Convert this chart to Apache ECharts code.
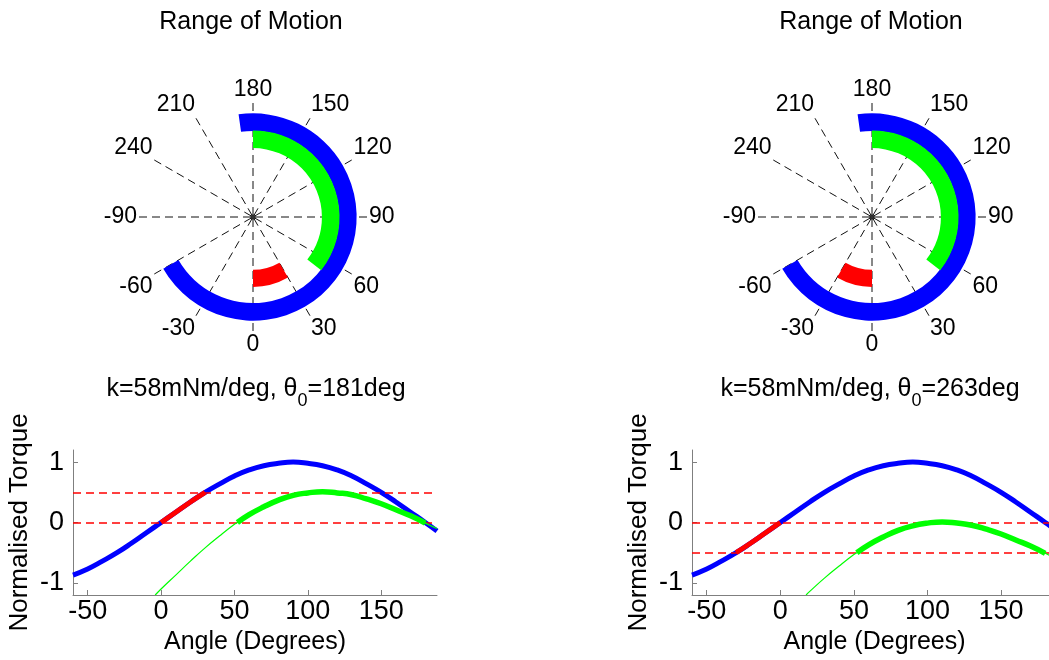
<!DOCTYPE html>
<html>
<head>
<meta charset="utf-8">
<script src="https://cdn.jsdelivr.net/npm/echarts@6/dist/echarts.min.js"></script>
<style>
  html, body { margin: 0; padding: 0; background: #ffffff; }
  #main { width: 1049px; height: 660px; }
</style>
</head>
<body>
<div id="main"></div>
<script>
// ---- data -------------------------------------------------------------
// Angles (deg) where the gravity torque curve is sampled
const angles = [-60, -50, -40, -30, -20, -10, 0, 10, 20, 30, 40, 50, 60, 70, 80, 90,
  100, 110, 120, 130, 140, 150, 160, 170, 180, 188];
// Normalised gravity torque (identical for both spring settings)
const gravityTorque = [-0.87, -0.77, -0.64, -0.50, -0.34, -0.17, 0.00, 0.17, 0.34, 0.50,
  0.64, 0.77, 0.87, 0.94, 0.98, 1.00, 0.98, 0.94, 0.87, 0.77, 0.64, 0.50, 0.34, 0.17, 0.00, -0.14];

// Net torque with spring, theta0 = 181deg
const netAngles1 = [-4, 0, 10, 20, 30, 40, 50, 52, 60, 70, 80, 90, 100, 110, 120, 130,
  140, 150, 160, 170, 180, 188];
const netTorque1 = [-1.20, -1.10, -0.87, -0.64, -0.42, -0.22, -0.03, 0.00, 0.13, 0.26,
  0.37, 0.45, 0.49, 0.51, 0.49, 0.46, 0.39, 0.31, 0.21, 0.11, -0.01, -0.10];

// Net torque with spring, theta0 = 263deg
const netAngles2 = [17.5, 20, 30, 40, 50, 52, 60, 70, 80, 90, 100, 110, 120, 130, 140,
  150, 160, 170, 180, 188];
const netTorque2 = [-1.20, -1.14, -0.92, -0.72, -0.53, -0.50, -0.37, -0.24, -0.13, -0.055,
  -0.01, 0.01, -0.01, -0.045, -0.11, -0.19, -0.29, -0.39, -0.51, -0.60];

// Ranges of motion (deg): [start, end]
const fullRange = [-60, 188];
const usableRange = [52, 180];
const liftRange1 = [0, 30];
const liftRange2 = [-30, 0];

// Torque limits drawn as dashed reference lines
const limits1 = [0, 0.5];
const limits2 = [-0.5, 0];

// Axis tick labels
const xTicks = [-50, 0, 50, 100, 150];
const yTicks = [-1, 0, 1];
const polarStep = 30;

const titles = ['Range of Motion', 'Range of Motion'];
const springText = [
  ['k=58mNm/deg, θ', '0', '=181deg'],
  ['k=58mNm/deg, θ', '0', '=263deg']
];

// ---- helpers ----------------------------------------------------------
const FONT = "'Liberation Sans', Arial, Helvetica, sans-serif";
const BLUE = '#0000ff', GREEN = '#00ff00', RED = '#ff0000';

function pairs(xs, ys) { return xs.map((x, i) => [x, ys[i]]); }
function within(xs, ys, lo, hi) {
  const out = [];
  xs.forEach((x, i) => { if (x >= lo && x <= hi) out.push([x, ys[i]]); });
  return out;
}

// radial bands (in radius-axis units) for the three rings
const bands = { outer: [0.83, 1.0], middle: [0.665, 0.835], inner: [0.51, 0.675] };

function arcRenderer(band) {
  return function (params, api) {
    const cs = params.coordSys;
    const a0 = api.value(0), a1 = api.value(1);
    const pOut0 = api.coord([band[1], a0]);
    const pOut1 = api.coord([band[1], a1]);
    const pIn0 = api.coord([band[0], a0]);
    const rOut = Math.hypot(pOut0[0] - cs.cx, pOut0[1] - cs.cy);
    const rIn = Math.hypot(pIn0[0] - cs.cx, pIn0[1] - cs.cy);
    const s = Math.atan2(pOut0[1] - cs.cy, pOut0[0] - cs.cx);
    let e = Math.atan2(pOut1[1] - cs.cy, pOut1[0] - cs.cx);
    while (e >= s) e -= 2 * Math.PI;
    return {
      type: 'sector',
      shape: { cx: cs.cx, cy: cs.cy, r: rOut, r0: rIn, startAngle: s, endAngle: e, clockwise: false },
      style: { fill: api.visual('color') }
    };
  };
}

function arcSeries(polarIndex, range, band, color, z) {
  return {
    type: 'custom', coordinateSystem: 'polar', polarIndex: polarIndex,
    renderItem: arcRenderer(band),
    encode: { angle: [0, 1] },
    data: [range], itemStyle: { color: color }, z: z, silent: true
  };
}

function angleAxis(polarIndex) {
  return {
    polarIndex: polarIndex, type: 'value', min: -90, max: 270, interval: polarStep,
    startAngle: 180, clockwise: false,
    axisLine: { show: false }, axisTick: { show: false },
    axisLabel: {
      margin: 2, color: '#000', fontFamily: FONT, fontSize: 23,
      formatter: v => (v >= 270 ? '' : String(v))
    },
    splitLine: { show: true, lineStyle: { color: '#111', width: 1, type: [8, 5] } }
  };
}

function radiusAxis(polarIndex) {
  return {
    polarIndex: polarIndex, type: 'value', min: 0, max: 1.1, show: false,
    axisLine: { show: false }, axisTick: { show: false }, axisLabel: { show: false },
    splitLine: { show: false }
  };
}

function xAxis(gridIndex) {
  return {
    gridIndex: gridIndex, type: 'value', min: -60, max: 188,
    name: 'Angle (Degrees)', nameLocation: 'middle', nameGap: 35,
    nameTextStyle: { color: '#000', fontFamily: FONT, fontSize: 25 },
    axisLine: { show: true, onZero: false, lineStyle: { color: '#7f7f7f', width: 1 } },
    axisTick: { show: true, inside: true, length: 5, customValues: xTicks, lineStyle: { color: '#7f7f7f' } },
    axisLabel: { customValues: xTicks, margin: 3, color: '#000', fontFamily: FONT, fontSize: 27 },
    splitLine: { show: false }
  };
}

function yAxis(gridIndex) {
  return {
    gridIndex: gridIndex, type: 'value', min: -1.2, max: 1.2,
    name: 'Normalised Torque', nameLocation: 'middle', nameGap: 40,
    nameTextStyle: { color: '#000', fontFamily: FONT, fontSize: 26 },
    axisLine: { show: true, onZero: false, lineStyle: { color: '#7f7f7f', width: 1 } },
    axisTick: { show: true, inside: true, length: 5, customValues: yTicks, lineStyle: { color: '#7f7f7f' } },
    axisLabel: { customValues: yTicks, margin: 9, color: '#000', fontFamily: FONT, fontSize: 27 },
    splitLine: { show: false }
  };
}

function curve(idx, data, color, width, z) {
  return {
    type: 'line', xAxisIndex: idx, yAxisIndex: idx, data: data,
    showSymbol: false, symbol: 'none', smooth: true, clip: true,
    lineStyle: { color: color, width: width, cap: 'butt' },
    z: z, silent: true
  };
}

function limitLines(idx, limits) {
  return {
    type: 'line', xAxisIndex: idx, yAxisIndex: idx, data: [], silent: true, z: 10,
    markLine: {
      silent: true, symbol: ['none', 'none'], label: { show: false },
      lineStyle: { color: RED, width: 1.7, type: [8, 5] },
      data: limits.map(v => ({ yAxis: v }))
    }
  };
}

function titleText(x, y, text) {
  return {
    type: 'text', x: x, y: y, silent: true,
    style: { text: text, fill: '#000', font: '25px ' + FONT, align: 'center', verticalAlign: 'top' }
  };
}

function springTitle(x, y, parts) {
  return {
    type: 'text', x: x, y: y, silent: true,
    style: {
      text: '{m|' + parts[0] + '}{s|' + parts[1] + '}{m|' + parts[2] + '}',
      align: 'center', verticalAlign: 'top', fill: '#000',
      rich: {
        m: { fontFamily: FONT, fontSize: 25, lineHeight: 25, verticalAlign: 'top', fill: '#000' },
        s: { fontFamily: FONT, fontSize: 18, lineHeight: 18, verticalAlign: 'top', padding: [15, 0, 0, 0], fill: '#000' }
      }
    }
  };
}

// ---- chart ------------------------------------------------------------
const chart = echarts.init(document.getElementById('main'), null, { renderer: 'canvas' });

chart.setOption({
  animation: false,
  backgroundColor: '#ffffff',
  polar: [
    { center: [253, 217], radius: 114 },
    { center: [872, 217], radius: 114 }
  ],
  angleAxis: [angleAxis(0), angleAxis(1)],
  radiusAxis: [radiusAxis(0), radiusAxis(1)],
  grid: [
    { left: 73, right: 612, top: 450, bottom: 65, outerBoundsMode: 'none' },
    { left: 692, right: -8, top: 450, bottom: 65, outerBoundsMode: 'none' }
  ],
  xAxis: [xAxis(0), xAxis(1)],
  yAxis: [yAxis(0), yAxis(1)],
  graphic: [
    titleText(251, 10, titles[0]),
    titleText(871, 10, titles[1]),
    springTitle(256, 377, springText[0]),
    springTitle(870, 377, springText[1])
  ],
  series: [
    // range-of-motion rings
    arcSeries(0, fullRange, bands.outer, BLUE, 2),
    arcSeries(0, usableRange, bands.middle, GREEN, 2),
    arcSeries(0, liftRange1, bands.inner, RED, 2),
    arcSeries(1, fullRange, bands.outer, BLUE, 2),
    arcSeries(1, usableRange, bands.middle, GREEN, 2),
    arcSeries(1, liftRange2, bands.inner, RED, 2),
    {
      type: 'scatter', coordinateSystem: 'polar', polarIndex: 0, data: [[0, 0]],
      symbolSize: 5, itemStyle: { color: '#000' }, silent: true, z: 5
    },
    {
      type: 'scatter', coordinateSystem: 'polar', polarIndex: 1, data: [[0, 0]],
      symbolSize: 5, itemStyle: { color: '#000' }, silent: true, z: 5
    },

    // torque curves, theta0 = 181deg
    curve(0, pairs(angles, gravityTorque), BLUE, 5, 3),
    curve(0, within(angles, gravityTorque, liftRange1[0], liftRange1[1]), RED, 5, 4),
    curve(0, pairs(netAngles1, netTorque1), GREEN, 1.2, 5),
    curve(0, within(netAngles1, netTorque1, usableRange[0], usableRange[1]), GREEN, 5.5, 6),
    limitLines(0, limits1),

    // torque curves, theta0 = 263deg
    curve(1, pairs(angles, gravityTorque), BLUE, 5, 3),
    curve(1, within(angles, gravityTorque, liftRange2[0], liftRange2[1]), RED, 5, 4),
    curve(1, pairs(netAngles2, netTorque2), GREEN, 1.2, 5),
    curve(1, within(netAngles2, netTorque2, usableRange[0], usableRange[1]), GREEN, 5.5, 6),
    limitLines(1, limits2)
  ]
});
</script>
</body>
</html>
